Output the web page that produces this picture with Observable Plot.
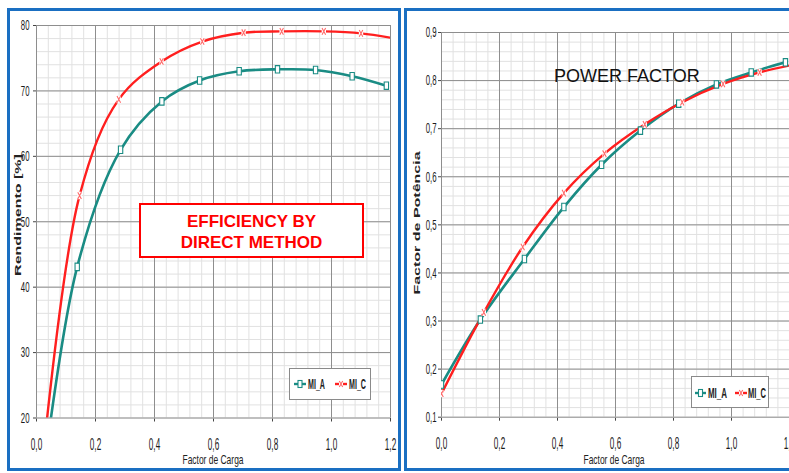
<!DOCTYPE html>
<html><head><meta charset="utf-8">
<script src="https://cdn.jsdelivr.net/npm/d3@7"></script>
<script src="https://cdn.jsdelivr.net/npm/@observablehq/plot@0.6"></script>
<style>
html,body{margin:0;padding:0;background:#fff;}
#page{position:relative;width:789px;height:473px;overflow:hidden;background:#fff;font-family:"Liberation Sans",Arial,sans-serif;}
.holder{position:absolute;top:0;width:400px;height:473px;}
.box{position:absolute;border:3px solid #1a6fc2;box-sizing:border-box;}
.ytitle{position:absolute;width:200px;height:20px;line-height:20px;text-align:center;font-weight:bold;font-size:16px;color:#222;white-space:nowrap;transform:scaleX(0.6) rotate(-90deg);}
.xtitle{position:absolute;width:200px;height:15px;line-height:15px;text-align:center;font-size:13px;color:#222;white-space:nowrap;transform:scaleX(0.65);}
#eff{position:absolute;left:139px;top:203px;width:225px;height:55px;box-sizing:border-box;border:2px solid #ff0000;background:#fff;color:#ff0000;font-weight:bold;font-size:17px;line-height:21px;text-align:center;padding-top:6px;}
#pf{position:absolute;left:554px;top:66px;font-size:18px;line-height:20px;color:#111;white-space:nowrap;}
.legend{position:absolute;}
</style></head>
<body><div id="page">
<div id="left" class="holder" style="left:0"></div>
<div id="right" class="holder" style="left:400px"></div>
</div>
<script>
// ---- data ----
const seriesNames = ["MI_A", "MI_C"];
const xTicks = [0, 0.2, 0.4, 0.6, 0.8, 1.0, 1.2];
const effTicksY = [20, 30, 40, 50, 60, 70, 80];
const pfTicksY = [0.1, 0.2, 0.3, 0.4, 0.5, 0.6, 0.7, 0.8, 0.9];

const effLoadA = [0, 0.138, 0.285, 0.425, 0.553, 0.687, 0.817, 0.946, 1.07, 1.186];
const effValA  = [3, 43.1, 61.0, 68.4, 71.6, 73.0, 73.3, 73.2, 72.25, 70.8];
const effLoadC = [0, 0.146, 0.279, 0.424, 0.562, 0.702, 0.831, 0.974, 1.1, 1.23];
const effValC  = [4, 54.0, 68.7, 74.5, 77.55, 78.9, 79.1, 79.1, 78.8, 77.9];

const pfLoadA = [0, 0.134, 0.286, 0.422, 0.552, 0.686, 0.818, 0.948, 1.068, 1.186];
const pfValA  = [0.168, 0.303, 0.429, 0.537, 0.625, 0.696, 0.752, 0.792, 0.817, 0.838];
const pfLoadC = [0, 0.146, 0.28, 0.422, 0.562, 0.701, 0.83, 0.971, 1.097, 1.23];
const pfValC  = [0.149, 0.318, 0.454, 0.566, 0.648, 0.709, 0.755, 0.793, 0.817, 0.835];

const teal = "#1a8c84", red = "#ff1f1f";
const commaFmt = d => d.toFixed(1).replace(".", ",");

const tallRect = {draw(ctx, size){const s=Math.sqrt(size);const w=s*0.36,h=s*0.62;ctx.moveTo(-w,-h);ctx.lineTo(w,-h);ctx.lineTo(w,h);ctx.lineTo(-w,h);ctx.closePath();}};
const xMark = {draw(ctx, size){const s=Math.sqrt(size);const w=s*0.3,h=s*0.55;ctx.moveTo(-w,-h);ctx.lineTo(w,h);ctx.moveTo(w,-h);ctx.lineTo(-w,h);}};

function build(cfg){
  const A = cfg.loadA.map((x,i)=>({x, y: cfg.valA[i]}));
  const C = cfg.loadC.map((x,i)=>({x, y: cfg.valC[i]}));
  const minorX = d3.range(0, 1.2001, 0.04);
  const minorY = d3.range(cfg.yDomain[0], cfg.yDomain[1] + cfg.minorStep/10, cfg.minorStep);
  return Plot.plot({
    width: 400, height: 473,
    marginLeft: cfg.ml, marginRight: cfg.mr, marginTop: cfg.mt, marginBottom: cfg.mb,
    style: {background: "white", fontFamily: "'Liberation Sans', Arial, sans-serif", fontSize: "14px", color: "#444", overflow: "visible", maxWidth: "none"},
    x: {domain: [0, 1.2], ticks: xTicks, tickFormat: commaFmt, tickSize: 4, tickPadding: 16, label: null},
    y: {domain: cfg.yDomain, ticks: cfg.yTicks, tickFormat: cfg.yFmt, tickSize: 3, tickPadding: cfg.yPad, label: null},
    marks: [
      Plot.ruleX(minorX, {stroke: "#e1e1e1"}),
      Plot.ruleY(minorY, {stroke: "#e1e1e1"}),
      Plot.ruleX(xTicks, {stroke: "#8e8e8e"}),
      Plot.ruleY(cfg.yTicks, {stroke: "#8e8e8e"}),
      Plot.line(A, {x: "x", y: "y", stroke: teal, strokeWidth: 2.6, curve: "catmull-rom", clip: true}),
      Plot.line(C, {x: "x", y: "y", stroke: red, strokeWidth: 2.4, curve: "catmull-rom", clip: true}),
      Plot.dot(A, {x: "x", y: "y", symbol: tallRect, r: 3.4, fill: "white", stroke: teal, strokeWidth: 1.1, clip: true}),
      Plot.dot(C, {x: "x", y: "y", symbol: tallRect, r: 3.4, fill: "white", stroke: "none", clip: true}),
      Plot.dot(C, {x: "x", y: "y", symbol: xMark, r: 3.4, fill: "none", stroke: "#ff6a6a", strokeWidth: 1.1, clip: true})
    ]
  });
}

function squeeze(svg){
  d3.select(svg).selectAll("text").each(function(){
    const isX = !!this.closest('[aria-label^="x-axis"]');
    const isY = !!this.closest('[aria-label^="y-axis"]');
    if (!isX && !isY) return;
    this.style.fontSize = isX ? "17px" : "15px";
    this.style.fill = "#1a1a1a";
    const n = this.getComputedTextLength();
    this.setAttribute("textLength", (n * (isX ? 0.48 : 0.52)).toFixed(2));
    this.setAttribute("lengthAdjust", "spacingAndGlyphs");
  });
}

const left = build({loadA: effLoadA, valA: effValA, loadC: effLoadC, valC: effValC,
  yDomain: [20, 80], yTicks: effTicksY, yFmt: d => String(d), minorStep: 2,
  ml: 36, mr: 10, mt: 25, mb: 55.5, yPad: 4});
document.getElementById("left").appendChild(left);
squeeze(left);

const right = build({loadA: pfLoadA, valA: pfValA, loadC: pfLoadC, valC: pfValC,
  yDomain: [0.1, 0.9], yTicks: pfTicksY, yFmt: commaFmt, minorStep: 0.02,
  ml: 41, mr: 11, mt: 32, mb: 56.3, yPad: 2});
document.getElementById("right").appendChild(right);
squeeze(right);

// legends
function legend(x, y, w, h, pos){
  const s = d3.create("svg").attr("class","legend").attr("width", w).attr("height", h)
    .style("position","absolute").style("left", x+"px").style("top", y+"px");
  s.append("rect").attr("x",0.5).attr("y",0.5).attr("width",w-1).attr("height",h-1).attr("fill","white").attr("stroke","#8a8a8a");
  const cols = [teal, red];
  seriesNames.forEach((name, i) => {
    const p = pos[i];
    s.append("line").attr("x1",p.l0).attr("x2",p.l1).attr("y1",p.cy).attr("y2",p.cy).attr("stroke",cols[i]).attr("stroke-width",2.4);
    const m = (p.l0+p.l1)/2;
    s.append("rect").attr("x",m-2).attr("y",p.cy-3.5).attr("width",4).attr("height",7).attr("fill","white").attr("stroke", i===0 ? teal : "none").attr("stroke-width",1.1);
    if (i===1) s.append("path").attr("d",`M${m-1.7},${p.cy-3}L${m+1.7},${p.cy+3}M${m+1.7},${p.cy-3}L${m-1.7},${p.cy+3}`).attr("stroke","#ff6a6a").attr("stroke-width",1.1);
    s.append("text").attr("x",p.t).attr("y",p.cy+5).attr("font-size",14).attr("font-weight","bold")
      .attr("font-family","'Liberation Sans', Arial, sans-serif").attr("fill","#222")
      .attr("textLength",p.tw).attr("lengthAdjust","spacingAndGlyphs").text(name);
  });
  document.getElementById("page").appendChild(s.node());
}
legend(289, 368, 82, 32, [{l0:5,l1:17,cy:16,t:19,tw:17},{l0:46,l1:58,cy:16,t:60,tw:17}]);
legend(691, 376, 78, 32, [{l0:4,l1:15,cy:17,t:17,tw:19},{l0:44,l1:56,cy:17,t:57,tw:18}]);

// overlay texts and panel frames
const page = document.getElementById("page");
function addDiv(cls, css, text, html){
  const d = document.createElement("div");
  if (cls) d.className = cls;
  d.style.cssText = css;
  if (html) d.innerHTML = html; else d.textContent = text;
  page.appendChild(d);
  return d;
}
addDiv("ytitle", "left:-82px;top:205px;", "Rendimento [%]");
addDiv("ytitle", "left:317px;top:213px;", "Factor de Potência");
addDiv("xtitle", "left:113px;top:452px;", "Factor de Carga");
addDiv("xtitle", "left:514px;top:452px;", "Factor de Carga");
const eff = addDiv("", "", "", "EFFICIENCY BY<br>DIRECT METHOD"); eff.id = "eff";
const pf = addDiv("", "", "POWER FACTOR"); pf.id = "pf";
addDiv("box", "left:7px;top:8px;width:394px;height:463px;", "");
addDiv("box", "left:404px;top:8px;width:400px;height:463px;", "");
</script>
</body></html>
